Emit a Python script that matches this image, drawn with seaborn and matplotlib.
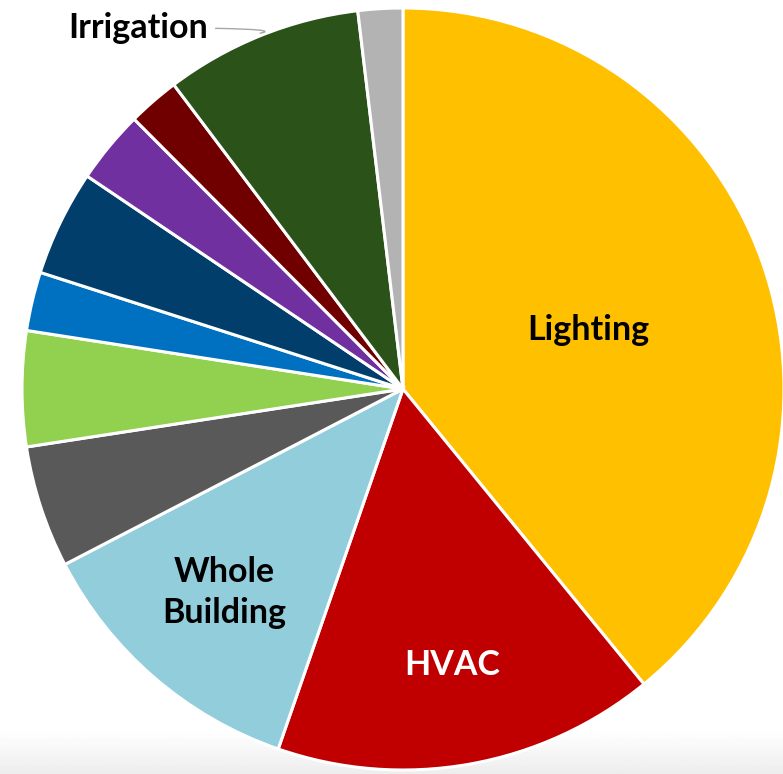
import numpy as np
import matplotlib.pyplot as plt
import seaborn as sns

# slice data, clockwise from 12 o'clock
categories = ['Lighting', 'HVAC', 'Whole\nBuilding', '', '', '', '', '', '', '', 'Irrigation']
shares = [39.2, 16.25, 12.1, 5.2, 4.9, 2.5, 4.5, 3.1, 2.2, 8.4, 1.9]
colors = ['#FFC000', '#C00000', '#92CDDC', '#595959', '#92D050', '#0070C0',
          '#023E6B', '#7030A0', '#700000', '#2A5219', '#B3B3B3']
label_colors = ['black', 'white', 'black', None, None, None, None, None, None, None, 'black']

sns.set_theme(style='white')
plt.rcParams['font.family'] = ['Lato', 'DejaVu Sans']

W, H = 783, 774
fig = plt.figure(figsize=(W / 100, H / 100), dpi=100)

# faint grey band at the bottom
bg = fig.add_axes([0, 0, 1, 45 / H])
grad = np.linspace(0.93, 1.0, 50).reshape(-1, 1)
bg.imshow(grad, aspect='auto', cmap='gray', vmin=0, vmax=1, origin='lower',
          extent=[0, 1, 0, 1])
bg.axis('off')

cx, cy, r = 403, 389, 381
ax = fig.add_axes([(cx - r) / W, (H - cy - r) / H, 2 * r / W, 2 * r / H])
ax.set_zorder(2)
wedges, _ = ax.pie(shares, colors=colors, startangle=90, counterclock=False,
                   radius=1, wedgeprops=dict(edgecolor='white', linewidth=2.2))
ax.set_xlim(-1, 1)
ax.set_ylim(-1, 1)
ax.set_aspect('equal')
ax.axis('off')

# inside labels: (radius, angle nudge in degrees) from each wedge's middle
inside = {'Lighting': (0.51, -1.8), 'HVAC': (0.735, 0.0), 'Whole\nBuilding': (0.71, -0.5)}
for w, name, tc in zip(wedges, categories, label_colors):
    if name in inside:
        rr, nudge = inside[name]
        mid = np.deg2rad((w.theta1 + w.theta2) / 2 + nudge)
        ax.text(rr * np.cos(mid), rr * np.sin(mid), name, ha='center', va='center',
                fontsize=24.5, fontweight='bold', color=tc, linespacing=1.35)

# outside label with leader line
ax.annotate('Irrigation', xy=(-0.375, 0.934), xytext=(-0.695, 0.948),
            ha='center', va='center', fontsize=24.5, fontweight='bold', color='black',
            arrowprops=dict(arrowstyle='-', color='#A6A6A6', lw=1,
                            shrinkA=3, shrinkB=0,
                            connectionstyle='angle3,angleA=0,angleB=10'),
            annotation_clip=False)

fig.savefig('out.png', dpi=100, facecolor='white')
